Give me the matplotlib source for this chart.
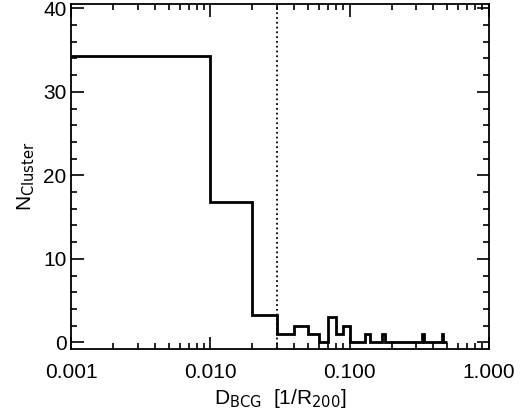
import numpy as np
import matplotlib
matplotlib.use("Agg")
import matplotlib.pyplot as plt
from matplotlib.ticker import LogLocator, MultipleLocator, FixedFormatter, FixedLocator

plt.rcParams['font.family'] = ['Liberation Sans', 'DejaVu Sans']

# bin edges (first bin 0.001-0.01, then linear 0.01-wide bins up to 0.50)
edges = np.array([0.001] + [round(0.01 * i, 2) for i in range(1, 51)])
counts = np.zeros(len(edges) - 1)
counts[0] = 34.3    # 0.001-0.01
counts[1] = 16.8    # 0.01-0.02
counts[2] = 3.3     # 0.02-0.03
small = {0.03: 1, 0.04: 2, 0.05: 1, 0.07: 3, 0.08: 1, 0.09: 2,
         0.13: 1, 0.17: 1, 0.33: 1, 0.46: 1}
for lo, n in small.items():
    counts[int(round(lo * 100))] = n

fig = plt.figure(figsize=(5.2, 4.16), dpi=100)
ax = fig.add_axes([0.137, 0.161, 0.803, 0.829])

ax.stairs(counts, edges, color="black", linewidth=2, baseline=None)
ax.axvline(0.03, color="black", linestyle=":", linewidth=1.3)

ax.set_xscale("log")
ax.set_xlim(0.001, 1.0)
ax.set_ylim(-0.8, 40.5)
ax.xaxis.set_major_locator(FixedLocator([0.001, 0.01, 0.1, 1.0]))
ax.xaxis.set_major_formatter(FixedFormatter(["0.001", "0.010", "0.100", "1.000"]))
ax.xaxis.set_minor_locator(LogLocator(subs=np.arange(2, 10)))
ax.yaxis.set_major_locator(MultipleLocator(10))
ax.yaxis.set_minor_locator(MultipleLocator(2))

ax.tick_params(which="both", direction="in", top=True, right=True, width=1.2, labelsize=15)
ax.tick_params(which="major", length=9)
ax.tick_params(which="minor", length=4.5)
ax.tick_params(axis="x", pad=10)
for s in ax.spines.values():
    s.set_linewidth(1.3)

ax.set_xlabel(r"D$_{\rm BCG}$  [1/R$_{200}$]", fontsize=15)
ax.set_ylabel(r"N$_{\rm Cluster}$", fontsize=15)

fig.savefig("out.png")
